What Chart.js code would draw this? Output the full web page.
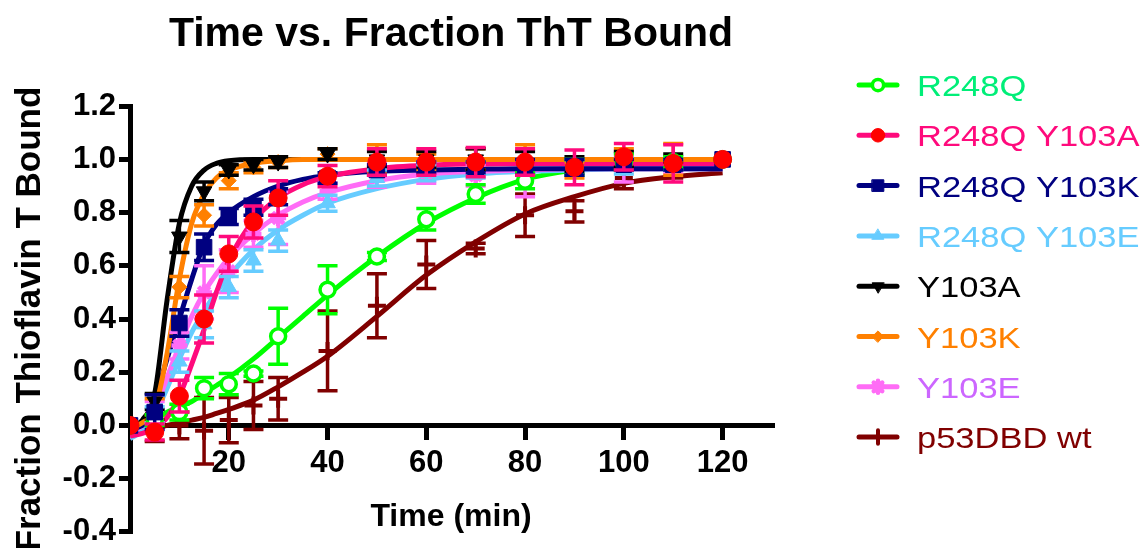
<!DOCTYPE html>
<html lang="en">
<head>
<meta charset="UTF-8">
<title>Time vs. Fraction ThT Bound</title>
<script src="https://cdn.jsdelivr.net/npm/chart.js@4.4.0/dist/chart.umd.min.js"></script>
<style>
  html, body { margin: 0; padding: 0; background: #fff; }
</style>
</head>
<body>
<canvas id="tht" width="1146" height="548"></canvas>
<script>
// sampling times (min)
const times = [0, 5, 10, 15, 20, 25, 30, 40, 50, 60, 70, 80, 90, 100, 110, 120];
const fitTimes = [0, 2.5, 5, 7.5, 10, 12.5, 15, 17.5, 20, 25, 30, 35, 40, 50, 60, 70, 80, 90, 100, 110, 120];
const yTicksMin = -0.4, yTicksMax = 1.2, yStep = 0.2;
const xMax = 130, xStep = 20;

// R248Q
const r248q    = [0.0, 0.02, 0.05, 0.14, 0.155, 0.195, 0.335, 0.51, 0.635, 0.775, 0.87, 0.92, 0.97, 0.99, 0.99, 1.0];
const r248qErr = [0, 0.02, 0.03, 0.04, 0.04, 0.01, 0.105, 0.09, 0.015, 0.04, 0.035, 0.03, 0.03, 0.03, 0.02, 0];
const r248qFit = [-0.01, 0.0, 0.02, 0.05, 0.07, 0.09, 0.12, 0.15, 0.18, 0.25, 0.33, 0.41, 0.49, 0.635, 0.76, 0.855, 0.925, 0.96, 0.98, 0.99, 1.0];

// R248Q Y103A
const y103aDbl    = [0.0, -0.025, 0.11, 0.40, 0.645, 0.765, 0.855, 0.937, 0.99, 0.99, 0.99, 0.99, 0.97, 1.01, 0.985, 1.0];
const y103aDblErr = [0, 0.03, 0.06, 0.09, 0.065, 0.06, 0.065, 0.04, 0.05, 0.05, 0.055, 0.05, 0.065, 0.05, 0.07, 0];
const y103aDblFit = [-0.04, -0.03, -0.01, 0.03, 0.11, 0.23, 0.36, 0.50, 0.62, 0.77, 0.855, 0.905, 0.935, 0.965, 0.978, 0.983, 0.985, 0.985, 0.985, 0.985, 0.985];

// R248Q Y103K
const y103kDbl    = [0.0, 0.05, 0.385, 0.67, 0.785, 0.82, 0.86, 0.93, 0.96, 0.97, 0.97, 0.97, 0.97, 0.98, 0.98, 1.0];
const y103kDblErr = [0, 0.065, 0.05, 0.05, 0.03, 0.03, 0.03, 0.02, 0.02, 0.02, 0.02, 0.03, 0.03, 0.02, 0.02, 0];
const y103kDblFit = [-0.01, 0.0, 0.10, 0.25, 0.40, 0.55, 0.68, 0.755, 0.80, 0.86, 0.90, 0.925, 0.94, 0.955, 0.96, 0.963, 0.965, 0.965, 0.965, 0.965, 0.965];

// R248Q Y103E
const y103eDbl    = [0.0, 0.04, 0.24, 0.38, 0.52, 0.62, 0.695, 0.835, 0.93, 0.95, 0.96, 0.97, 0.97, 0.975, 0.98, 1.0];
const y103eDblErr = [0, 0.03, 0.04, 0.05, 0.04, 0.04, 0.04, 0.03, 0.03, 0.03, 0.03, 0.03, 0.03, 0.03, 0.02, 0];
const y103eDblFit = [-0.05, -0.02, 0.04, 0.14, 0.25, 0.35, 0.43, 0.50, 0.56, 0.66, 0.735, 0.79, 0.835, 0.89, 0.925, 0.945, 0.955, 0.96, 0.965, 0.965, 0.965];

// Y103A
const y103a    = [0.0, 0.09, 0.71, 0.88, 0.96, 0.98, 0.99, 1.02, 1.0, 1.0, 1.0, 0.99, 0.98, 1.0, 0.99, 1.0];
const y103aErr = [0, 0.03, 0.06, 0.035, 0.02, 0.02, 0.02, 0.02, 0.03, 0.03, 0.04, 0.04, 0.03, 0.03, 0.03, 0];
const y103aFit = [-0.01, 0.02, 0.12, 0.47, 0.76, 0.90, 0.96, 0.985, 0.995, 1.0, 1.0, 1.0, 1.0, 1.0, 1.0, 1.0, 1.0, 1.0, 1.0, 1.0, 1.0];

// Y103K
const y103k    = [0.0, 0.07, 0.52, 0.79, 0.92, 0.97, 0.99, 1.02, 1.0, 0.99, 1.0, 1.0, 0.96, 1.0, 1.0, 1.0];
const y103kErr = [0, 0.03, 0.04, 0.04, 0.03, 0.02, 0.02, 0.02, 0.055, 0.03, 0.04, 0.055, 0.03, 0.04, 0.06, 0];
const y103kFit = [-0.01, 0.01, 0.06, 0.27, 0.55, 0.76, 0.87, 0.93, 0.96, 0.985, 0.995, 1.0, 1.0, 1.0, 1.0, 1.0, 1.0, 1.0, 1.0, 1.0, 1.0];

// Y103E
const y103e    = [0.0, 0.05, 0.30, 0.50, 0.58, 0.72, 0.78, 0.88, 0.94, 0.95, 0.94, 0.93, 0.97, 0.97, 0.98, 1.0];
const y103eErr = [0, 0.04, 0.05, 0.10, 0.08, 0.05, 0.10, 0.03, 0.045, 0.04, 0.04, 0.07, 0.03, 0.055, 0.03, 0];
const y103eFit = [-0.03, 0.0, 0.06, 0.18, 0.30, 0.41, 0.50, 0.57, 0.63, 0.72, 0.79, 0.84, 0.875, 0.92, 0.945, 0.955, 0.96, 0.965, 0.965, 0.965, 0.965];

// p53DBD wt
const wt    = [0.0, -0.02, 0.0, -0.02, 0.02, 0.075, 0.10, 0.28, 0.45, 0.605, 0.665, 0.79, 0.805, 0.93, 0.96, 1.0];
const wtErr = [0, 0.04, 0.05, 0.125, 0.085, 0.09, 0.08, 0.15, 0.12, 0.09, 0.02, 0.08, 0.04, 0.04, 0.03, 0];
const wtFit = [-0.02, -0.015, -0.01, 0.0, 0.01, 0.02, 0.03, 0.045, 0.06, 0.095, 0.145, 0.20, 0.26, 0.41, 0.565, 0.69, 0.795, 0.86, 0.91, 0.935, 0.95];

// legend order as in the figure; pz / lz = draw order of points / fit line (lower is on top)
const series = [
  { name: 'R248Q', mean: r248q, err: r248qErr, fit: r248qFit, line: '#00ff00', text: '#00ee78',
    mk: { pointStyle: 'circle', radius: 7.5, fill: '#ffffff', stroke: '#00ff00', bw: 3.5 }, pz: 3, lz: 18 },
  { name: 'R248Q Y103A', mean: y103aDbl, err: y103aDblErr, fit: y103aDblFit, line: '#ff0a7c', text: '#ff0a7c',
    mk: { pointStyle: 'circle', radius: 9, fill: '#ff0000', stroke: '#ff0000', bw: 1 }, pz: 1, lz: 12 },
  { name: 'R248Q Y103K', mean: y103kDbl, err: y103kDblErr, fit: y103kDblFit, line: '#000080', text: '#000080',
    mk: { pointStyle: 'rect', radius: 11, fill: '#000080', stroke: '#000080', bw: 1 }, pz: 2, lz: 13 },
  { name: 'R248Q Y103E', mean: y103eDbl, err: y103eDblErr, fit: y103eDblFit, line: '#66ccff', text: '#66ccff',
    mk: { pointStyle: 'triangle', radius: 9, fill: '#66ccff', stroke: '#66ccff', bw: 1 }, pz: 4, lz: 15 },
  { name: 'Y103A', mean: y103a, err: y103aErr, fit: y103aFit, line: '#000000', text: '#000000',
    mk: { pointStyle: 'triangle', rotation: 180, radius: 9, fill: '#000000', stroke: '#000000', bw: 1 }, pz: 5, lz: 11 },
  { name: 'Y103K', mean: y103k, err: y103kErr, fit: y103kFit, line: '#ff8000', text: '#ff8000',
    mk: { pointStyle: 'rectRot', radius: 7.5, fill: '#ff8000', stroke: '#ff8000', bw: 1 }, pz: 6, lz: 10 },
  { name: 'Y103E', mean: y103e, err: y103eErr, fit: y103eFit, line: '#ff6cf6', text: '#cc66ff',
    mk: { pointStyle: 'star', radius: 8, fill: '#ff6cf6', stroke: '#ff6cf6', bw: 4.5 }, pz: 7, lz: 14 },
  { name: 'p53DBD wt', mean: wt, err: wtErr, fit: wtFit, line: '#800000', text: '#800000',
    mk: { pointStyle: 'cross', radius: 9, fill: '#800000', stroke: '#800000', bw: 4 }, pz: 8, lz: 17 }
];

const datasets = [];
series.forEach(s => {
  datasets.push({
    label: s.name + ' fit',
    data: fitTimes.map((t, i) => ({ x: t, y: s.fit[i] })),
    borderColor: s.line,
    borderWidth: 5,
    pointRadius: 0,
    cubicInterpolationMode: 'monotone',
    fill: false,
    order: s.lz
  });
  datasets.push({
    label: s.name,
    data: times.map((t, i) => ({ x: t, y: s.mean[i] })),
    errs: s.err,
    errColor: s.line,
    showLine: false,
    pointStyle: s.mk.pointStyle,
    rotation: s.mk.rotation || 0,
    pointRadius: s.mk.radius,
    pointBackgroundColor: s.mk.fill,
    pointBorderColor: s.mk.stroke,
    pointBorderWidth: s.mk.bw,
    order: s.pz
  });
});

// vertical error bars with caps, drawn right before their points
const errorBars = {
  id: 'errorBars',
  beforeDatasetDraw(chart, args) {
    const ds = chart.data.datasets[args.index];
    if (!ds.errs) return;
    const xs = chart.scales.x, ys = chart.scales.y;
    const ctx = chart.ctx;
    ctx.save();
    ctx.strokeStyle = ds.errColor;
    ctx.lineWidth = 3.5;
    ctx.lineCap = 'butt';
    ds.data.forEach((p, i) => {
      const e = ds.errs[i];
      if (!e) return;
      const x = xs.getPixelForValue(p.x);
      const yTop = ys.getPixelForValue(p.y + e);
      const yBot = ys.getPixelForValue(p.y - e);
      ctx.beginPath();
      ctx.moveTo(x, yTop); ctx.lineTo(x, yBot);
      ctx.moveTo(x - 10, yTop); ctx.lineTo(x + 10, yTop);
      ctx.moveTo(x - 10, yBot); ctx.lineTo(x + 10, yBot);
      ctx.stroke();
    });
    ctx.restore();
  }
};

// legend on the right: short line + marker, coloured name
const sideLegend = {
  id: 'sideLegend',
  afterDraw(chart) {
    const ctx = chart.ctx;
    ctx.save();
    series.forEach((s, k) => {
      const y = 85 + k * 50.3;
      ctx.strokeStyle = s.line;
      ctx.lineWidth = 5;
      ctx.lineCap = 'round';
      ctx.beginPath();
      ctx.moveTo(859, y); ctx.lineTo(897, y);
      ctx.stroke();
      ctx.fillStyle = s.mk.fill;
      ctx.strokeStyle = s.mk.stroke;
      ctx.lineWidth = s.mk.bw;
      Chart.helpers.drawPoint(ctx, {
        pointStyle: s.mk.pointStyle, rotation: s.mk.rotation || 0,
        radius: s.mk.radius * 0.75, borderWidth: s.mk.bw
      }, 878, y);
      ctx.save();
      ctx.translate(917, y + 11);
      ctx.scale(1.15, 1);
      ctx.font = '30px "Liberation Sans", Arial, sans-serif';
      ctx.fillStyle = s.text;
      ctx.textBaseline = 'alphabetic';
      ctx.fillText(s.name, 0, 0);
      ctx.restore();
    });
    ctx.restore();
  }
};

Chart.defaults.font.family = '"Liberation Sans", Arial, sans-serif';
Chart.defaults.color = '#000';

new Chart(document.getElementById('tht'), {
  type: 'line',
  data: { datasets },
  plugins: [errorBars, sideLegend],
  options: {
    responsive: false,
    animation: false,
    layout: { padding: { left: 0, right: 374, top: 0, bottom: 13 } },
    plugins: {
      legend: { display: false },
      tooltip: { enabled: false },
      title: {
        display: true,
        fullSize: false,
        text: 'Time vs. Fraction ThT Bound',
        color: '#000',
        font: { size: 41, weight: 'bold' },
        padding: { top: 10, bottom: 47 }
      }
    },
    scales: {
      x: {
        type: 'linear',
        min: 0,
        max: xMax,
        position: { y: 0 },
        ticks: {
          stepSize: xStep,
          includeBounds: false,
          maxRotation: 0,
          padding: 7,
          color: '#000',
          font: { size: 31, weight: 'bold' },
          callback: v => (v === 0 ? '' : v)
        },
        grid: { drawOnChartArea: false, tickLength: 12, lineWidth: 5, color: '#000' },
        border: { display: true, width: 5, color: '#000' },
        title: {
          display: true,
          text: 'Time (min)',
          color: '#000',
          font: { size: 32, weight: 'bold' },
          padding: { top: 9, bottom: 0 }
        }
      },
      y: {
        type: 'linear',
        min: yTicksMin,
        max: yTicksMax,
        ticks: {
          stepSize: yStep,
          padding: 3,
          color: '#000',
          font: { size: 31, weight: 'bold', lineHeight: 0.85 },
          callback: v => (Math.abs(v) < 1e-9 ? 0 : v).toFixed(1)
        },
        grid: { drawOnChartArea: false, tickLength: 11, lineWidth: 5, color: '#000' },
        border: { display: true, width: 5, color: '#000' },
        title: {
          display: true,
          text: 'Fraction Thioflavin T Bound',
          color: '#000',
          font: { size: 35, weight: 'bold' },
          padding: { top: 9, bottom: 0 }
        },
        afterFit: s => { s.width = 130; }
      }
    }
  }
});
</script>
</body>
</html>
